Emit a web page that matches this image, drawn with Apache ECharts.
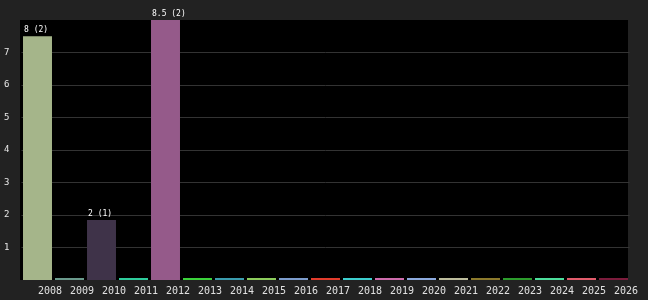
<!DOCTYPE html>
<html>
<head>
<meta charset="utf-8">
<script src="https://cdn.jsdelivr.net/npm/echarts@6/dist/echarts.min.js"></script>
<style>
html,body{margin:0;padding:0;background:#000;}
#chart{width:648px;height:300px;}
</style>
</head>
<body>
<div id="chart"></div>
<script>
var categories = ['2008','2009','2010','2011','2012','2013','2014','2015','2016','2017','2018','2019','2020','2021','2022','2023','2024','2025','2026'];
var values = [7.5, 0, 1.85, 0, 8, 0, 0, 0, 0, 0, 0, 0, 0, 0, 0, 0, 0, 0, 0];
var barLabels = ['8 (2)', '', '2 (1)', '', '8.5 (2)', '', '', '', '', '', '', '', '', '', '', '', '', '', ''];
var barColors = ['#a5b58a','#6a9a8c','#3f3349','#2ecc9c','#955a8a','#3bd23b','#3a9cae','#8ccc5c','#7c9ccc','#e23c2c','#3ccece','#ce6cac','#8caade','#bcbc9c','#8c7a2c','#2c9c2c','#4cde9c','#e25c6c','#7c1c3c'];
var yTicks = [1, 2, 3, 4, 5, 6, 7];

var chart = echarts.init(document.getElementById('chart'), null, {renderer: 'canvas'});
var mono = 'DejaVu Sans Mono';
chart.setOption({
  backgroundColor: '#222222',
  animation: false,
  graphic: [{type: 'rect', z: -10, silent: true, shape: {x: 20, y: 20, width: 608, height: 260}, style: {fill: '#000000'}}],
  grid: {left: 21.5, right: 18.5, top: 20, bottom: 20, show: false},
  xAxis: {
    type: 'category',
    data: categories,
    boundaryGap: true,
    axisLine: {show: false},
    axisTick: {show: false},
    axisLabel: {color: '#e0e0e0', fontFamily: mono, fontSize: 10, margin: 6, padding: [0, 0, 0, 25], interval: 0}
  },
  yAxis: {
    type: 'value',
    min: 0,
    max: 8,
    interval: 1,
    axisLine: {show: false},
    axisTick: {show: false},
    axisLabel: {
      color: '#e8e8e8', fontFamily: mono, fontSize: 9, margin: 12,
      padding: [0, 0, 3, 0],
      showMinLabel: false, showMaxLabel: false,
      formatter: function (v) { return yTicks.indexOf(v) >= 0 ? String(v) : ''; }
    },
    splitLine: {show: true, showMinLine: false, showMaxLine: false, lineStyle: {color: '#333333', width: 1}}
  },
  series: [{
    type: 'bar',
    barCategoryGap: '9.4%',
    barMinHeight: 2,
    data: values.map(function (v, i) {
      return {value: v, itemStyle: {color: barColors[i]}, label: {formatter: barLabels[i]}};
    }),
    label: {
      show: true,
      position: [1, -2],
      verticalAlign: 'bottom',
      align: 'left',
      color: '#ffffff',
      fontFamily: mono,
      fontSize: 8
    }
  }]
});
</script>
</body>
</html>
